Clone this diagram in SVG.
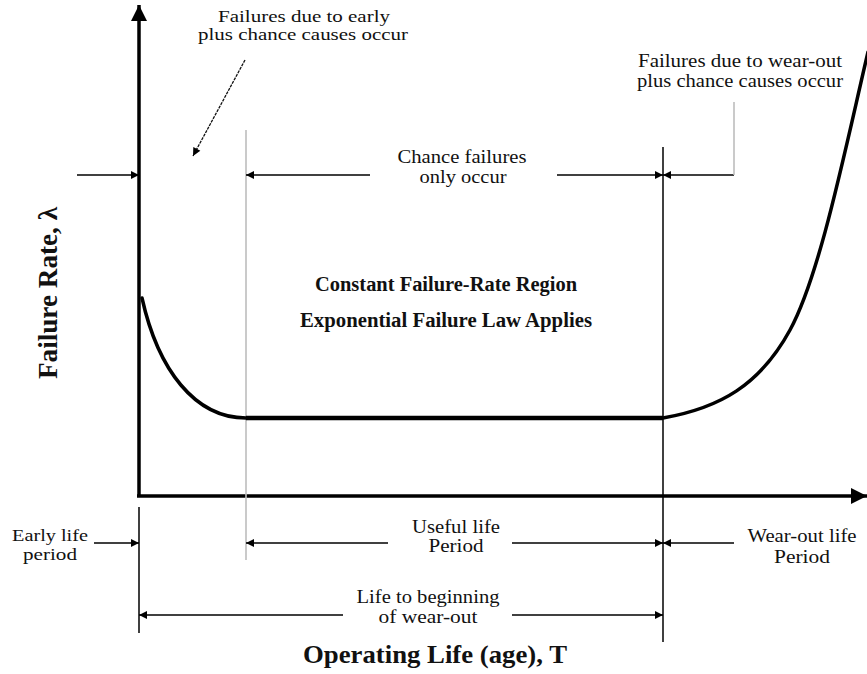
<svg xmlns="http://www.w3.org/2000/svg" width="867" height="674" viewBox="0 0 867 674">
  <style>
    .lbl { font-family: "Liberation Serif", "Times New Roman", serif; font-size: 18px; fill: #111; text-anchor: middle; }
    .tight { font-size: 16.5px; }
    .bold { font-family: "Liberation Serif", "Times New Roman", serif; font-weight: bold; fill: #111; text-anchor: middle; }
    .dim { stroke: #000; stroke-width: 1.4; fill: none; }
    .tick { stroke: #000; stroke-width: 1.5; fill: none; }
    .grey { stroke: #bdbdbd; stroke-width: 1.6; fill: none; }
    .curve { stroke: #000; stroke-width: 3.5; fill: none; stroke-linecap: round; stroke-linejoin: round; }
    .axis { stroke: #000; stroke-width: 3.5; fill: none; }
  </style>
  <defs>
    <marker id="tri" viewBox="0 0 10 10" refX="10" refY="5" markerWidth="10" markerHeight="8" markerUnits="userSpaceOnUse" orient="auto">
      <path d="M0,0 L10,5 L0,10 z" fill="#000"/>
    </marker>
    <marker id="axhead" viewBox="0 0 10 10" refX="10" refY="5" markerWidth="17" markerHeight="16" markerUnits="userSpaceOnUse" orient="auto">
      <path d="M0,0 L10,5 L0,10 z" fill="#000"/>
    </marker>
  </defs>

  <rect width="867" height="674" fill="#fff"/>

  <!-- axes -->
  <g id="axes">
    <line class="axis" x1="139" y1="497" x2="139" y2="5" marker-end="url(#axhead)"/>
    <line class="axis" x1="137" y1="496" x2="867" y2="496" marker-end="url(#axhead)"/>
  </g>

  <!-- period boundaries -->
  <g id="boundaries">
    <line class="grey" x1="246" y1="130" x2="246" y2="560"/>
    <line class="tick" x1="663" y1="147" x2="663" y2="642"/>
    <line class="tick" x1="139" y1="507" x2="139" y2="633"/>
  </g>

  <!-- bathtub curve -->
  <g id="curve">
    <path class="curve" d="M142,298 C158,370 195,418 246,418"/>
    <line x1="246" y1="418" x2="663" y2="418" stroke="#000" stroke-width="4.5"/>
    <path class="curve" d="M663,418 C720,408 760,385 790,330 S845,150 868,52"/>
  </g>

  <!-- dimension arrows -->
  <g id="connectors">
    <line class="dim" x1="77" y1="175" x2="139" y2="175" marker-end="url(#tri)"/>
    <line class="dim" x1="370" y1="175" x2="246" y2="175" marker-end="url(#tri)"/>
    <line class="dim" x1="557" y1="175" x2="663" y2="175" marker-end="url(#tri)"/>
    <line class="dim" x1="734" y1="175" x2="663" y2="175" marker-end="url(#tri)"/>
    <line class="grey" x1="734" y1="102" x2="734" y2="175" stroke-width="1.2"/>
    <line x1="245" y1="60" x2="193" y2="156" stroke="#111" stroke-width="1.3" stroke-dasharray="3 1" marker-end="url(#tri)"/>

    <line class="dim" x1="94" y1="543" x2="139" y2="543" marker-end="url(#tri)"/>
    <line class="dim" x1="388" y1="543" x2="246" y2="543" marker-end="url(#tri)"/>
    <line class="dim" x1="512" y1="543" x2="663" y2="543" marker-end="url(#tri)"/>
    <line class="dim" x1="734" y1="543" x2="663" y2="543" marker-end="url(#tri)"/>

    <line class="dim" x1="343" y1="615" x2="139" y2="615" marker-end="url(#tri)"/>
    <line class="dim" x1="512" y1="615" x2="663" y2="615" marker-end="url(#tri)"/>
  </g>

  <!-- annotations -->
  <g id="early-note">
    <text class="lbl tight" x="304" y="22" textLength="172" lengthAdjust="spacingAndGlyphs">Failures due to early</text>
    <text class="lbl tight" x="303" y="40" textLength="210" lengthAdjust="spacingAndGlyphs">plus chance causes occur</text>
  </g>
  <g id="wear-note">
    <text class="lbl" x="740" y="67" textLength="204" lengthAdjust="spacingAndGlyphs">Failures due to wear-out</text>
    <text class="lbl" x="740" y="87" textLength="206" lengthAdjust="spacingAndGlyphs">plus chance causes occur</text>
  </g>
  <g id="chance-note">
    <text class="lbl" x="462" y="163" textLength="129" lengthAdjust="spacingAndGlyphs">Chance failures</text>
    <text class="lbl" x="463" y="183" textLength="87" lengthAdjust="spacingAndGlyphs">only occur</text>
  </g>
  <g id="region-note">
    <text class="bold" x="446" y="291" font-size="20" textLength="262" lengthAdjust="spacingAndGlyphs">Constant Failure-Rate Region</text>
    <text class="bold" x="446" y="327" font-size="20" textLength="292" lengthAdjust="spacingAndGlyphs">Exponential Failure Law Applies</text>
  </g>
  <g id="y-label">
    <text class="bold" transform="translate(57,293) rotate(-90)" x="0" y="0" font-size="27" textLength="172" lengthAdjust="spacingAndGlyphs">Failure Rate, λ</text>
  </g>
  <g id="early-period">
    <text class="lbl tight" x="50" y="541" textLength="76" lengthAdjust="spacingAndGlyphs">Early life</text>
    <text class="lbl tight" x="50" y="560" textLength="54" lengthAdjust="spacingAndGlyphs">period</text>
  </g>
  <g id="useful-period">
    <text class="lbl" x="456" y="533" textLength="88" lengthAdjust="spacingAndGlyphs">Useful life</text>
    <text class="lbl" x="456" y="552" textLength="55" lengthAdjust="spacingAndGlyphs">Period</text>
  </g>
  <g id="wear-period">
    <text class="lbl" x="802" y="542" textLength="109" lengthAdjust="spacingAndGlyphs">Wear-out life</text>
    <text class="lbl" x="802" y="563" textLength="56" lengthAdjust="spacingAndGlyphs">Period</text>
  </g>
  <g id="life-to-wear">
    <text class="lbl" x="428" y="603" textLength="143" lengthAdjust="spacingAndGlyphs">Life to beginning</text>
    <text class="lbl" x="428" y="623" textLength="99" lengthAdjust="spacingAndGlyphs">of wear-out</text>
  </g>
  <g id="x-label">
    <text class="bold" x="435" y="663" font-size="26" textLength="264" lengthAdjust="spacingAndGlyphs">Operating Life (age), T</text>
  </g>
</svg>
